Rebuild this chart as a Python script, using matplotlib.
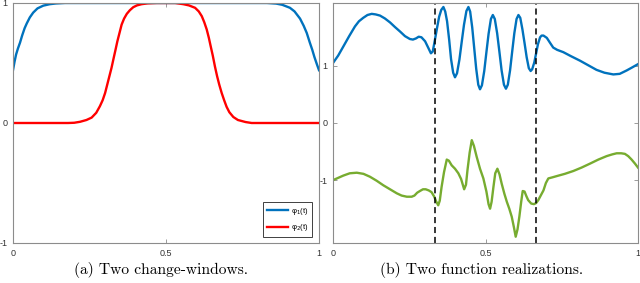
import numpy as np
import matplotlib
matplotlib.use("Agg")
import matplotlib.pyplot as plt

plt.rcParams['font.family'] = ['Liberation Sans', 'DejaVu Sans']
plt.rcParams['axes.unicode_minus'] = False
plt.rcParams['mathtext.fontset'] = 'dejavusans'

# (a) change windows
t_phi1 = [0, 0.005, 0.01, 0.016, 0.023, 0.03, 0.038, 0.045, 0.055, 0.066, 0.08, 0.099, 0.12,
          0.14, 0.17, 0.83, 0.86, 0.88, 0.905, 0.92, 0.938, 0.95, 0.96, 0.97, 0.978, 0.985,
          0.993, 1]
phi1 = [0.44, 0.51, 0.57, 0.62, 0.67, 0.73, 0.79, 0.83, 0.88, 0.92, 0.955, 0.978, 0.99,
        0.996, 1.0, 1.0, 0.995, 0.985, 0.96, 0.93, 0.87, 0.81, 0.75, 0.67, 0.61, 0.55,
        0.49, 0.44]

t_phi2 = [0, 0.18, 0.2, 0.219, 0.24, 0.257, 0.272, 0.284, 0.293, 0.301, 0.308, 0.315, 0.322,
          0.328, 0.335, 0.341, 0.348, 0.355, 0.363, 0.372, 0.382, 0.393, 0.405, 0.42, 0.44,
          0.47, 0.53, 0.557, 0.575, 0.595, 0.607, 0.617, 0.625, 0.633, 0.64, 0.646, 0.653,
          0.66, 0.667, 0.674, 0.682, 0.69, 0.698, 0.707, 0.72, 0.735, 0.76, 0.78, 1]
phi2 = [0, 0, 0.002, 0.01, 0.025, 0.045, 0.085, 0.14, 0.19, 0.25, 0.32, 0.39, 0.46,
        0.53, 0.61, 0.68, 0.75, 0.82, 0.87, 0.91, 0.94, 0.965, 0.98, 0.99, 0.997,
        1.0, 1.0, 0.99, 0.98, 0.96, 0.93, 0.89, 0.84, 0.78, 0.71, 0.64, 0.56,
        0.47, 0.39, 0.32, 0.25, 0.19, 0.135, 0.09, 0.05, 0.025, 0.008, 0, 0]

# (b) function realizations
t_f1 = [0.0, 0.017, 0.034, 0.053, 0.072, 0.085, 0.099, 0.113, 0.127, 0.14, 0.154, 0.17,
        0.187, 0.203, 0.22, 0.236, 0.252, 0.262, 0.272, 0.281, 0.29, 0.302, 0.312, 0.321,
        0.327, 0.334, 0.341, 0.348, 0.355, 0.362, 0.368, 0.374, 0.381, 0.387, 0.394, 0.400,
        0.4066, 0.4145, 0.422, 0.4295, 0.4374, 0.444, 0.4497, 0.4565, 0.463, 0.4695, 0.4763,
        0.482, 0.4883, 0.4959, 0.503, 0.5101, 0.5177, 0.524, 0.5305, 0.5382, 0.5455, 0.5528,
        0.5605, 0.567, 0.5732, 0.5805, 0.5875, 0.5945, 0.6018, 0.608, 0.614, 0.621, 0.628,
        0.635, 0.642, 0.648, 0.653, 0.660, 0.666, 0.672, 0.679, 0.684, 0.690, 0.701, 0.712,
        0.722, 0.735, 0.755, 0.78, 0.81, 0.837, 0.864, 0.89, 0.919, 0.94, 0.963, 0.98, 1.0]
f1 = [1.05, 1.18, 1.34, 1.52, 1.69, 1.78, 1.84, 1.89, 1.91, 1.90, 1.88, 1.83,
      1.76, 1.68, 1.60, 1.52, 1.47, 1.46, 1.48, 1.51, 1.50, 1.43, 1.32, 1.22,
      1.25, 1.45, 1.66, 1.86, 1.98, 2.03, 1.95, 1.78, 1.45, 1.12, 0.88, 0.80,
      0.87, 1.11, 1.42, 1.72, 1.96, 2.03, 1.95, 1.67, 1.31, 0.95, 0.67,
      0.59, 0.66, 0.91, 1.24, 1.56, 1.82, 1.89, 1.82, 1.57, 1.25, 0.92,
      0.67, 0.60, 0.67, 0.92, 1.25, 1.57, 1.82, 1.89, 1.84, 1.64, 1.40,
      1.15, 0.96, 0.91, 0.94, 1.06, 1.22, 1.38, 1.50, 1.53, 1.53, 1.49, 1.40,
      1.32, 1.28, 1.24, 1.17, 1.09, 1.01, 0.93, 0.88, 0.85, 0.86, 0.92, 0.97, 1.03]

t_f2 = [0.0, 0.017, 0.034, 0.055, 0.078, 0.1, 0.121, 0.143, 0.165, 0.187, 0.209, 0.225,
        0.242, 0.258, 0.267, 0.276, 0.285, 0.295, 0.304, 0.314, 0.323, 0.332, 0.338, 0.345,
        0.350, 0.356, 0.364, 0.373, 0.38, 0.389, 0.40, 0.411, 0.42, 0.43, 0.436, 0.441,
        0.448, 0.455, 0.462, 0.471, 0.482, 0.493, 0.503, 0.51, 0.515, 0.52, 0.526, 0.532,
        0.539, 0.546, 0.553, 0.562, 0.57, 0.578, 0.586, 0.593, 0.599, 0.605, 0.611, 0.617,
        0.622, 0.628, 0.634, 0.64, 0.65, 0.659, 0.666, 0.673, 0.68, 0.69, 0.698, 0.706,
        0.72, 0.733, 0.76, 0.788, 0.815, 0.843, 0.87, 0.897, 0.915, 0.93, 0.945, 0.957,
        0.968, 0.979, 0.99, 1.0]
f2 = [-1.0, -0.96, -0.92, -0.88, -0.87, -0.89, -0.94, -1.01, -1.09, -1.16, -1.23, -1.27,
      -1.29, -1.29, -1.27, -1.22, -1.19, -1.16, -1.16, -1.18, -1.21, -1.29, -1.37, -1.44,
      -1.36, -1.12, -0.86, -0.64, -0.66, -0.74, -0.80, -0.88, -0.98, -1.16, -1.08, -0.82,
      -0.52, -0.30, -0.40, -0.59, -0.80, -0.97, -1.20, -1.42, -1.50, -1.38, -1.12, -0.88,
      -0.80, -0.90, -1.06, -1.24, -1.38, -1.50, -1.64, -1.82, -1.99, -1.86, -1.64, -1.38,
      -1.19, -1.20, -1.28, -1.35, -1.41, -1.42, -1.40, -1.35, -1.28, -1.18, -1.05, -0.97,
      -0.95, -0.93, -0.89, -0.84, -0.78, -0.71, -0.64, -0.58, -0.55, -0.53, -0.53, -0.54,
      -0.58, -0.64, -0.71, -0.78]

change_points = [1/3, 2/3]

blue = '#0072BD'
red = '#FF0000'
green = '#77AC30'
spine_col = '#8c8c8c'

fig = plt.figure(figsize=(6.4, 2.83), dpi=100)
ax1 = fig.add_axes([13/640, 1 - 243/283, 306/640, 240/283])
ax2 = fig.add_axes([333/640, 1 - 243/283, 305/640, 240/283])

ax1.plot(t_phi1, phi1, color=blue, lw=1.7, label='φ$_1$(t)')
ax1.plot(t_phi2, phi2, color=red, lw=1.7, label='φ$_2$(t)')
ax1.set_xlim(0, 1)
ax1.set_ylim(-1, 1)
ax1.set_yticks([-1, 0, 1])
ax1.set_yticklabels(['-1', '0', '1'])
leg = ax1.legend(loc='lower right', bbox_to_anchor=(0.977, 0.025), borderaxespad=0,
                 fontsize=5.5, fancybox=False, framealpha=1, edgecolor='#404040',
                 handlelength=2.8, handletextpad=0.3, borderpad=0.5, labelspacing=0.7)
leg.get_frame().set_linewidth(0.7)

ax2.plot(t_f1, f1, color=blue, lw=1.7)
ax2.plot(t_f2, f2, color=green, lw=1.7)
for cp in change_points:
    ax2.axvline(cp, color='black', lw=1.1, linestyle=(0, (4, 2.5)))
ax2.set_xlim(0, 1)
ax2.set_ylim(-2.1, 2.1)
ax2.set_yticks([-1, 0, 1])
ax2.set_yticklabels(['-1', '0', '1'])

for ax in (ax1, ax2):
    ax.set_xticks([0, 0.5, 1])
    ax.set_xticklabels(['0', '0.5', '1'])
    ax.tick_params(direction='in', length=3, width=0.6, top=True, right=True,
                   labelsize=6.5, labelcolor='#333333', color=spine_col, pad=4)
    for s in ax.spines.values():
        s.set_color(spine_col)
        s.set_linewidth(0.8)

fig.text(161/640, 1 - 270/283, '(a) Two change-windows.', ha='center', va='center',
         family='cmr10', fontsize=11.2)
fig.text(482/640, 1 - 270/283, '(b) Two function realizations.', ha='center', va='center',
         family='cmr10', fontsize=11.2)

fig.savefig('out.png', dpi=100)
